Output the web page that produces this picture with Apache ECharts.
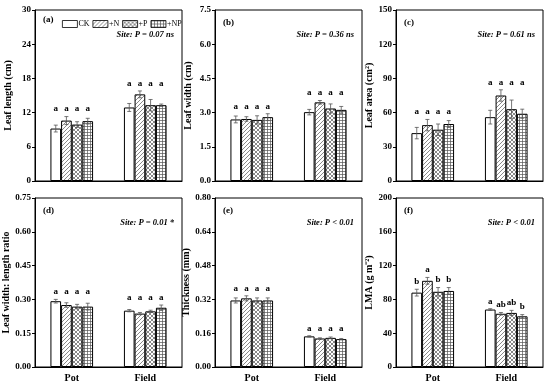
<!DOCTYPE html>
<html><head><meta charset="utf-8">
<script src="https://cdn.jsdelivr.net/npm/echarts@6/dist/echarts.min.js"></script>
<style>html,body{margin:0;padding:0;background:#fff}#c{width:550px;height:386px}</style>
</head><body><div id="c"></div>
<script>
const categories = ['Pot', 'Field'];
const treatments = ['CK', '+N', '+P', '+NP'];

// rows: CK, +N, +P, +NP ; cols: Pot, Field
const leafLengthMean = [[9.2, 12.9], [10.6, 15.2], [9.9, 13.3], [10.5, 13.3]];
const leafLengthSE   = [[0.6, 0.7], [0.7, 0.6], [0.5, 1.0], [0.5, 0.2]];
const leafLengthLetters = [['a', 'a'], ['a', 'a'], ['a', 'a'], ['a', 'a']];

const leafWidthMean = [[2.70, 3.02], [2.72, 3.45], [2.68, 3.18], [2.80, 3.12]];
const leafWidthSE   = [[0.15, 0.12], [0.10, 0.08], [0.18, 0.20], [0.15, 0.15]];
const leafWidthLetters = [['a', 'a'], ['a', 'a'], ['a', 'a'], ['a', 'a']];

const leafAreaMean = [[42, 56], [49, 75], [45, 63], [50, 59]];
const leafAreaSE   = [[5, 6], [5, 5], [5, 8], [3, 4]];
const leafAreaLetters = [['a', 'a'], ['a', 'a'], ['a', 'a'], ['a', 'a']];

const ratioMean = [[0.292, 0.250], [0.275, 0.237], [0.268, 0.247], [0.268, 0.263]];
const ratioSE   = [[0.008, 0.005], [0.010, 0.005], [0.010, 0.005], [0.015, 0.012]];
const ratioLetters = [['a', 'a'], ['a', 'a'], ['a', 'a'], ['a', 'a']];

const thickMean = [[0.315, 0.145], [0.325, 0.135], [0.315, 0.138], [0.315, 0.132]];
const thickSE   = [[0.012, 0.003], [0.012, 0.003], [0.012, 0.004], [0.012, 0.003]];
const thickLetters = [['a', 'a'], ['a', 'a'], ['a', 'a'], ['a', 'a']];

const lmaMean = [[88, 68], [102, 63], [89, 64], [90, 60]];
const lmaSE   = [[4, 1], [4, 1.5], [5, 3], [4, 2]];
const lmaLetters = [['b', 'a'], ['a', 'ab'], ['b', 'ab'], ['b', 'b']];

const yMax = [30, 7.5, 150, 0.75, 0.80, 200];
const yInterval = [6, 1.5, 30, 0.15, 0.16, 40];
const yDecimals = [0, 1, 0, 2, 2, 0];
const yNames = ['Leaf length (cm)', 'Leaf width (cm)', 'Leaf area (cm\u00B2)', 'Leaf width: length ratio', 'Thickness (mm)', 'LMA (g m\u207B\u00B2)'];
const panelTags = ['(a)', '(b)', '(c)', '(d)', '(e)', '(f)'];
const siteTexts = ['Site: P = 0.07 ns', 'Site: P = 0.36 ns', 'Site: P = 0.61 ns', 'Site: P = 0.01 *', 'Site: P < 0.01', 'Site: P < 0.01'];

const panels = [
  {mean: leafLengthMean, se: leafLengthSE, letters: leafLengthLetters, align: true},
  {mean: leafWidthMean, se: leafWidthSE, letters: leafWidthLetters, align: true},
  {mean: leafAreaMean, se: leafAreaSE, letters: leafAreaLetters, align: true},
  {mean: ratioMean, se: ratioSE, letters: ratioLetters, align: true},
  {mean: thickMean, se: thickSE, letters: thickLetters, align: true},
  {mean: lmaMean, se: lmaSE, letters: lmaLetters, align: false}
];

// ---- patterns ----
function makePattern(kind) {
  const c = document.createElement('canvas');
  const s = kind === 'grid' ? 3 : 4;
  c.width = s; c.height = s;
  const g = c.getContext('2d');
  g.fillStyle = '#fff'; g.fillRect(0, 0, s, s);
  g.strokeStyle = '#555'; g.lineWidth = 0.7;
  g.beginPath();
  if (kind === 'diag') {
    g.moveTo(0, s); g.lineTo(s, 0);
    g.moveTo(-1, 1); g.lineTo(1, -1);
    g.moveTo(s - 1, s + 1); g.lineTo(s + 1, s - 1);
  } else if (kind === 'cross') {
    g.moveTo(0, s); g.lineTo(s, 0);
    g.moveTo(0, 0); g.lineTo(s, s);
  } else if (kind === 'grid') {
    g.moveTo(0, 0.5); g.lineTo(s, 0.5);
    g.moveTo(0.5, 0); g.lineTo(0.5, s);
  }
  g.stroke();
  return c;
}
const fills = ['#ffffff', {image: makePattern('diag'), repeat: 'repeat'}, {image: makePattern('cross'), repeat: 'repeat'}, {image: makePattern('grid'), repeat: 'repeat'}];

const FONT = '"Liberation Serif", "Times New Roman", serif';
const GAP = 0.42;
const colLeft = [35, 215, 396];
const W = 147;
const rowTop = [10, 198];
const rowH = [171, 169];

const grids = [], xAxes = [], yAxes = [], series = [], graphics = [];
for (let p = 0; p < 6; p++) {
  const r = Math.floor(p / 3), c = p % 3;
  grids.push({left: colLeft[c], top: rowTop[r], width: W, height: rowH[r], show: true, borderColor: '#000', borderWidth: 1, backgroundColor: 'transparent', containLabel: false});
  xAxes.push({type: 'category', gridIndex: p, data: categories, axisTick: {show: false},
    axisLine: {show: true, lineStyle: {color: '#000', width: 1}},
    axisLabel: {show: r === 1, color: '#000', fontFamily: FONT, fontWeight: 'bold', fontSize: 10, margin: 6},
    splitLine: {show: false}});
  const dec = yDecimals[p];
  yAxes.push({type: 'value', gridIndex: p, min: 0, max: yMax[p], interval: yInterval[p],
    name: yNames[p], nameLocation: 'middle', nameGap: 22,
    nameTextStyle: {color: '#000', fontFamily: FONT, fontWeight: 'bold', fontSize: 10},
    axisLine: {show: true, lineStyle: {color: '#000', width: 1}},
    axisTick: {show: true, inside: false, length: 3, lineStyle: {color: '#000'}},
    axisLabel: {color: '#000', fontFamily: FONT, fontWeight: 'bold', fontSize: 9, margin: 4,
      formatter: v => v.toFixed(dec)},
    splitLine: {show: false}});
  const P = panels[p];
  for (let t = 0; t < 4; t++) {
    series.push({type: 'bar', name: treatments[t], xAxisIndex: p, yAxisIndex: p,
      data: P.mean[t], barGap: '0%', barCategoryGap: (GAP * 100) + '%',
      itemStyle: {color: fills[t], borderColor: '#000', borderWidth: 1},
      emphasis: {disabled: true}, animation: false});
  }
  // error bars + letters
  const items = [];
  for (let ci = 0; ci < 2; ci++) {
    let gmax = -Infinity;
    for (let t = 0; t < 4; t++) gmax = Math.max(gmax, P.mean[t][ci] + P.se[t][ci]);
    for (let t = 0; t < 4; t++) {
      const top = P.mean[t][ci] + P.se[t][ci];
      items.push({cat: ci, t: t, m: P.mean[t][ci], se: P.se[t][ci], letter: P.letters[t][ci], ly: P.align ? gmax : top});
    }
  }
  series.push({type: 'custom', xAxisIndex: p, yAxisIndex: p, animation: false, silent: true, z: 10,
    data: items.map(o => [o.cat, o.m]),
    renderItem: function (params, api) {
      const o = items[params.dataIndex];
      const center = api.coord([o.cat, 0]);
      const band = api.size([1, 0])[0];
      const bw = band * (1 - GAP) / 4;
      const x = center[0] - 2 * bw + (o.t + 0.5) * bw;
      const yt = api.coord([o.cat, o.m + o.se])[1];
      const yb = api.coord([o.cat, o.m - o.se])[1];
      const yl = api.coord([o.cat, o.ly])[1];
      const ls = {stroke: '#555', lineWidth: 0.8};
      return {type: 'group', children: [
        {type: 'line', shape: {x1: x, y1: yt, x2: x, y2: yb}, style: ls},
        {type: 'line', shape: {x1: x - 2, y1: yt, x2: x + 2, y2: yt}, style: ls},
        {type: 'line', shape: {x1: x - 2, y1: yb, x2: x + 2, y2: yb}, style: ls},
        {type: 'text', style: {text: o.letter, x: x, y: yl - 3, align: 'center', verticalAlign: 'bottom',
          fill: '#000', font: 'bold 9px ' + FONT}}
      ]};
    }});
  // panel tag & site text
  graphics.push({type: 'text', left: colLeft[c] + 8, top: rowTop[r] + (p === 0 ? 5 : 8),
    style: {text: panelTags[p], fill: '#000', font: 'bold 9px ' + FONT}});
  graphics.push({type: 'text', right: 550 - (colLeft[c] + W - 8), top: rowTop[r] + 20,
    style: {text: siteTexts[p], fill: '#000', font: 'italic bold 8.5px ' + FONT}});
}

const chart = echarts.init(document.getElementById('c'), null, {renderer: 'canvas'});
chart.setOption({
  animation: false,
  backgroundColor: '#fff',
  grid: grids, xAxis: xAxes, yAxis: yAxes, series: series,
  legend: {data: treatments, left: 57, top: 15, itemWidth: 15, itemHeight: 7, itemGap: 3,
    icon: 'rect', selectedMode: false,
    itemStyle: {borderWidth: 0.8, borderColor: '#000'},
    textStyle: {color: '#000', fontFamily: FONT, fontSize: 8, padding: [0, 0, 0, -4]}},
  graphic: graphics
});
</script></body></html>
